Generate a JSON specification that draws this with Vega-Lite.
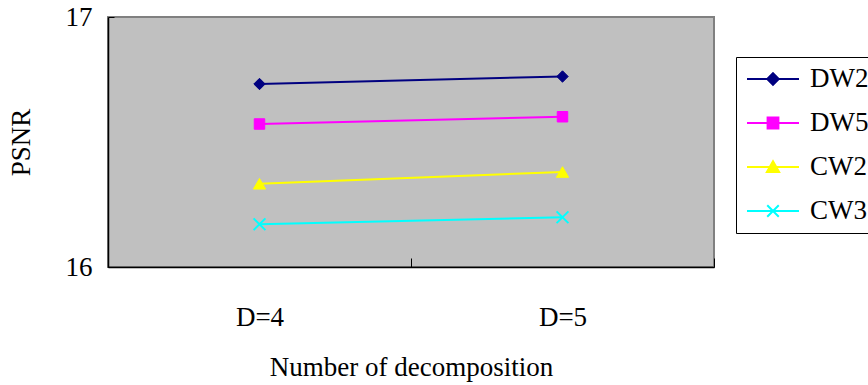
{
  "$schema": "https://vega.github.io/schema/vega-lite/v6.json",
  "width": 606,
  "height": 250,
  "autosize": {"type": "none"},
  "padding": {"left": 108, "top": 17, "right": 154, "bottom": 118},
  "background": "white",
  "view": {"fill": "#C0C0C0", "stroke": "#808080", "strokeWidth": 2},
  "config": {
    "font": "Liberation Serif",
    "axis": {"labelFont": "Liberation Serif", "titleFont": "Liberation Serif", "labelColor": "black", "titleColor": "black", "titleFontWeight": "normal"},
    "legend": {"labelFont": "Liberation Serif"}
  },
  "data": {
    "values": [
      {"D": "D=4", "series": "DW2", "psnr": 16.732},
      {"D": "D=5", "series": "DW2", "psnr": 16.762},
      {"D": "D=4", "series": "DW5", "psnr": 16.572},
      {"D": "D=5", "series": "DW5", "psnr": 16.601},
      {"D": "D=4", "series": "CW2", "psnr": 16.333},
      {"D": "D=5", "series": "CW2", "psnr": 16.380},
      {"D": "D=4", "series": "CW3", "psnr": 16.171},
      {"D": "D=5", "series": "CW3", "psnr": 16.199}
    ]
  },
  "encoding": {
    "x": {
      "field": "D",
      "type": "nominal",
      "sort": ["D=4", "D=5"],
      "scale": {"type": "band", "paddingInner": 0, "paddingOuter": 0},
      "axis": {
        "title": "Number of decomposition",
        "titleFontSize": 27,
        "titlePadding": 24,
        "labelFontSize": 27,
        "labelAngle": 0,
        "labelPadding": 46,
        "tickBand": "extent",
        "tickSize": -9,
        "tickColor": "black",
        "domainColor": "black",
        "domainWidth": 1.5,
        "grid": false
      }
    },
    "y": {
      "field": "psnr",
      "type": "quantitative",
      "scale": {"domain": [16, 17], "nice": false, "zero": false},
      "axis": {
        "title": "PSNR",
        "titleFontSize": 27,
        "titlePadding": 30,
        "labelFontSize": 27,
        "labelPadding": 22,
        "format": "d",
        "values": [16, 17],
        "tickSize": -6,
        "tickColor": "black",
        "domainColor": "black",
        "domainWidth": 1.5,
        "grid": false
      }
    },
    "color": {
      "field": "series",
      "type": "nominal",
      "scale": {
        "domain": ["DW2", "DW5", "CW2", "CW3"],
        "range": ["#000080", "#FF00FF", "#FFFF00", "#00FFFF"]
      },
      "legend": {
        "title": null,
        "orient": "none",
        "legendX": 628,
        "legendY": 40,
        "padding": 0,
        "strokeColor": "black",
        "labelFontSize": 27,
        "labelColor": "black",
        "labelOffset": 0,
        "symbolSize": 5184,
        "clipHeight": 44,
        "rowPadding": 0,
        "encode": {
          "symbols": {
            "update": {
              "shape": {"signal": "datum.value === 'DW2' ? 'M-0.722,0H0.722M0,-0.16L0.16,0L0,0.16L-0.16,0Z' : datum.value === 'DW5' ? 'M-0.722,0H0.722M-0.15,-0.15H0.15V0.15H-0.15Z' : datum.value === 'CW2' ? 'M-0.722,0H0.722M0,-0.16L0.17,0.14L-0.17,0.14Z' : 'M-0.722,0H0.722M-0.16,-0.16L0.16,0.16M-0.16,0.16L0.16,-0.16'"},
              "stroke": {"scale": "color", "field": "value"},
              "fill": {"scale": "color", "field": "value"},
              "strokeWidth": {"value": 2},
              "opacity": {"value": 1}
            }
          }
        }
      }
    }
  },
  "layer": [
    {
      "mark": {"type": "line", "strokeWidth": 2}
    },
    {
      "transform": [{"filter": "datum.series === 'DW2'"}],
      "mark": {"type": "point", "shape": "M-1,0L0,-1L1,0L0,1Z", "filled": true, "opacity": 1, "stroke": "#000080", "strokeWidth": 1, "size": 130}
    },
    {
      "transform": [{"filter": "datum.series === 'DW5'"}],
      "mark": {"type": "point", "shape": "square", "filled": true, "opacity": 1, "stroke": "#FF00FF", "strokeWidth": 1, "size": 110}
    },
    {
      "transform": [{"filter": "datum.series === 'CW2'"}],
      "mark": {"type": "point", "shape": "triangle-up", "filled": true, "opacity": 1, "stroke": "#FFFF00", "strokeWidth": 1, "size": 150}
    },
    {
      "transform": [{"filter": "datum.series === 'CW3'"}],
      "mark": {"type": "point", "shape": "M-1,-1L1,1M-1,1L1,-1", "filled": false, "opacity": 1, "strokeWidth": 2, "size": 140}
    }
  ]
}
